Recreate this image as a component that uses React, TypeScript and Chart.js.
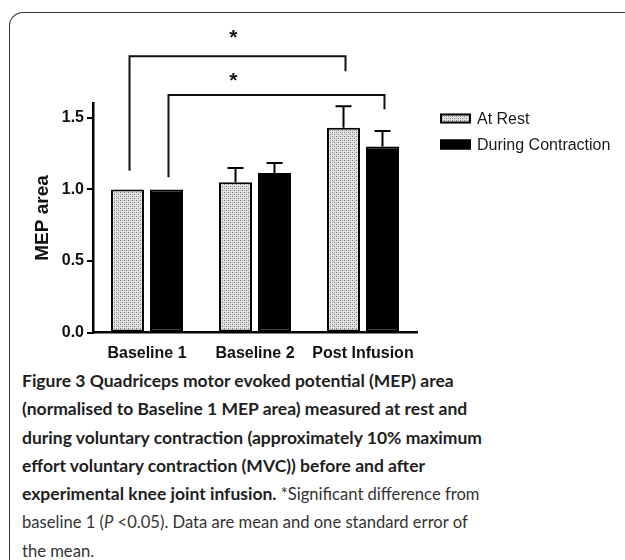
import React, { useEffect, useRef } from "react";
import { Chart, registerables } from "chart.js";

Chart.register(...registerables);

const categories = ["Baseline 1", "Baseline 2", "Post Infusion"];
const seriesLabels = ["At Rest", "During Contraction"];
const restMean = [1.0, 1.05, 1.43];
const restSE = [0, 0.1, 0.15];
const contractionMean = [1.0, 1.115, 1.3];
const contractionSE = [0, 0.07, 0.108];
const yTickValues = [0, 0.5, 1.0, 1.5];
const yMax = 1.6;

// significance brackets: dataset index, from category, to category, values
const bracketDataset = [0, 1];
const bracketFrom = [0, 0];
const bracketTo = [2, 2];
const bracketTop = [1.93, 1.66];
const bracketLeftEnd = [1.13, 1.085];
const bracketRightEnd = [1.825, 1.56];
const starCategoryPos = [0.8, 0.8];
const starValue = [2.1, 1.8];

const FONT = "'Liberation Sans', Arial, Helvetica, sans-serif";

function makePattern(): CanvasPattern | string {
  const c = document.createElement("canvas");
  c.width = 4;
  c.height = 4;
  const g = c.getContext("2d");
  if (!g) return "#d0d0d0";
  g.fillStyle = "#e2e2e2";
  g.fillRect(0, 0, 4, 4);
  g.fillStyle = "#7a7a7a";
  g.fillRect(0, 0, 1, 1);
  g.fillRect(2, 2, 1, 1);
  g.fillStyle = "#b4b4b4";
  g.fillRect(2, 0, 1, 1);
  g.fillRect(0, 2, 1, 1);
  const p = g.createPattern(c, "repeat");
  return p || "#d0d0d0";
}

const overlayPlugin = {
  id: "overlay",
  afterDatasetsDraw(chart: any) {
    const ctx = chart.ctx as CanvasRenderingContext2D;
    const y = chart.scales.y;
    const x = chart.scales.x;
    const ses = [restSE, contractionSE];
    const means = [restMean, contractionMean];
    ctx.save();
    ctx.strokeStyle = "#000";
    ctx.lineWidth = 2;
    // error bars
    for (let d = 0; d < 2; d++) {
      const meta = chart.getDatasetMeta(d);
      meta.data.forEach((bar: any, i: number) => {
        const se = ses[d][i];
        if (!se) return;
        const top = y.getPixelForValue(means[d][i] + se);
        const base = y.getPixelForValue(means[d][i]);
        ctx.beginPath();
        ctx.moveTo(bar.x, base);
        ctx.lineTo(bar.x, top);
        ctx.moveTo(bar.x - 8, top);
        ctx.lineTo(bar.x + 8, top);
        ctx.stroke();
      });
    }
    // brackets
    ctx.strokeStyle = "#111";
    for (let b = 0; b < bracketDataset.length; b++) {
      const meta = chart.getDatasetMeta(bracketDataset[b]);
      const x1 = meta.data[bracketFrom[b]].x + 2;
      const x2 = meta.data[bracketTo[b]].x + 2;
      const yt = y.getPixelForValue(bracketTop[b]);
      ctx.beginPath();
      ctx.moveTo(x1, y.getPixelForValue(bracketLeftEnd[b]));
      ctx.lineTo(x1, yt);
      ctx.lineTo(x2, yt);
      ctx.lineTo(x2, y.getPixelForValue(bracketRightEnd[b]));
      ctx.stroke();
      ctx.fillStyle = "#111";
      ctx.font = `bold 21px ${FONT}`;
      ctx.textAlign = "center";
      ctx.textBaseline = "alphabetic";
      ctx.fillText("*", x.getPixelForValue(starCategoryPos[b]), y.getPixelForValue(starValue[b]) + 12);
    }
    // legend
    const area = chart.chartArea;
    const lx = area.right + 23;
    const fills = [chart.data.datasets[0].backgroundColor, "#000"];
    seriesLabels.forEach((lab, i) => {
      const cy = area.top + 15 + i * 26;
      ctx.fillStyle = fills[i];
      ctx.fillRect(lx, cy - 5, 31, 10);
      ctx.lineWidth = 2;
      ctx.strokeStyle = "#000";
      ctx.strokeRect(lx + 1, cy - 4, 29, 8);
      ctx.fillStyle = "#1a1a1a";
      ctx.font = `16px ${FONT}`;
      ctx.textAlign = "left";
      ctx.textBaseline = "middle";
      ctx.fillText(lab, lx + 37, cy + 1);
    });
    ctx.restore();
  },
};

export default function App() {
  const ref = useRef<HTMLCanvasElement>(null);
  useEffect(() => {
    if (!ref.current) return;
    const pattern = makePattern();
    const chart = new Chart(ref.current, {
      type: "bar",
      data: {
        labels: categories,
        datasets: [
          {
            label: seriesLabels[0],
            data: restMean,
            backgroundColor: pattern as any,
            borderColor: "#000",
            borderWidth: 2,
            borderSkipped: false,
            barPercentage: 0.846,
            categoryPercentage: 0.722,
          },
          {
            label: seriesLabels[1],
            data: contractionMean,
            backgroundColor: "#000",
            borderColor: "#000",
            borderWidth: 2,
            borderSkipped: false,
            barPercentage: 0.846,
            categoryPercentage: 0.722,
          },
        ],
      },
      options: {
        animation: false,
        responsive: false,
        layout: { padding: { top: 103.5, right: 208, left: 27, bottom: 0 } },
        plugins: { legend: { display: false }, tooltip: { enabled: false } },
        scales: {
          x: {
            offset: true,
            grid: { display: false, drawTicks: false },
            border: { display: true, color: "#000", width: 2.5 },
            ticks: {
              color: "#111",
              font: { family: FONT, size: 16, weight: "bold" },
              padding: 11,
              maxRotation: 0,
            },
            afterFit: (s: any) => {
              s.height = 32.5;
            },
          },
          y: {
            min: 0,
            max: yMax,
            afterBuildTicks: (s: any) => {
              s.ticks = yTickValues.map((v) => ({ value: v }));
            },
            ticks: {
              color: "#111",
              font: { family: FONT, size: 16, weight: "bold" },
              padding: 3,
              callback: (v: any) => Number(v).toFixed(1),
            },
            grid: { drawOnChartArea: false, drawTicks: true, tickLength: 6, color: "#000", lineWidth: 2 },
            border: { display: true, color: "#000", width: 2.5 },
            title: {
              display: true,
              text: "MEP area",
              color: "#111",
              font: { family: FONT, size: 19, weight: "bold" },
              padding: { top: 4, bottom: 4 },
            },
            afterFit: (s: any) => {
              s.width = 66;
            },
          },
        },
      },
      plugins: [overlayPlugin],
    } as any);
    return () => chart.destroy();
  }, []);

  const bold: React.CSSProperties = { fontWeight: 700, color: "#1e1e1e", fontSize: 17.5 };
  const light: React.CSSProperties = { fontWeight: 400, color: "#333", fontSize: 16.6 };

  return (
    <div style={{ position: "absolute", left: 0, top: 0, width: 625, height: 560, background: "#fff", overflow: "hidden" }}>
      <div
        style={{
          position: "absolute",
          left: 9,
          top: 12,
          width: 640,
          height: 600,
          borderTop: "1.5px solid #333",
          borderLeft: "1.5px solid #333",
          borderTopLeftRadius: 14,
        }}
      />
      <canvas ref={ref} width={625} height={365} style={{ position: "absolute", left: 0, top: 0, display: "block" }} />
      <div
        style={{
          position: "absolute",
          left: 22,
          top: 367,
          fontFamily: "Lato, 'Open Sans', sans-serif",
          fontSize: 17.5,
          lineHeight: "28.3px",
          whiteSpace: "pre",
        }}
      >
        <div style={bold}>Figure 3 Quadriceps motor evoked potential (MEP) area</div>
        <div style={bold}>(normalised to Baseline 1 MEP area) measured at rest and</div>
        <div style={bold}>during voluntary contraction (approximately 10% maximum</div>
        <div style={bold}>effort voluntary contraction (MVC)) before and after</div>
        <div>
          <span style={bold}>experimental knee joint infusion.</span>
          <span style={light}> *Significant difference from</span>
        </div>
        <div style={light}>
          baseline 1 (<i>P</i> &lt;0.05). Data are mean and one standard error of
        </div>
        <div style={light}>the mean.</div>
      </div>
    </div>
  );
}
